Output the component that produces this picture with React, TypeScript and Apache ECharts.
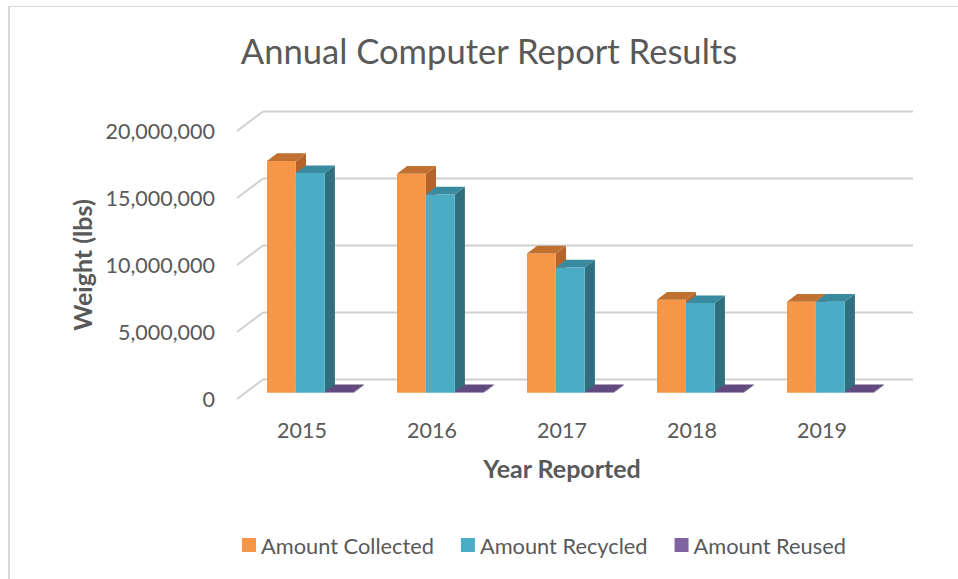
import React, { useEffect, useRef } from "react";
import * as echarts from "echarts";

const years = ["2015", "2016", "2017", "2018", "2019"];
const seriesNames = ["Amount Collected", "Amount Recycled", "Amount Reused"];
const collected = [17300000, 16350000, 10400000, 6950000, 6800000];
const recycled = [16400000, 14800000, 9350000, 6700000, 6800000];
const reused = [50000, 50000, 50000, 50000, 50000];
const yTicks = [0, 5000000, 10000000, 15000000, 20000000];

const FRONT = ["#F79646", "#4BACC6", "#8064A2"];
const TOP = ["#C0712F", "#3A8BA0", "#614B7E"];
const SIDE = ["#B5652A", "#2F6F7E", "#4F3D68"];

const DX = 26;
const DY = -19.5;
const F1 = 0.32;
const F2 = 0.71;
const GAP = 1.5;
const FONT = "Lato";
const TXT = "#595959";
const GRID = "#d0d0d0";

const makeBar = (s: number) => (params: any, api: any) => {
  const idx = api.value(0);
  const v = api.value(1);
  const top = api.coord([idx, v]);
  const base = api.coord([idx, 0]);
  const band = api.size([1, 0])[0];
  const bw = band / (3 + GAP);
  const left = top[0] - 1.5 * bw + s * bw;
  const x0 = left + F1 * DX;
  const x1 = x0 + bw;
  const yb = base[1] + F1 * DY;
  const yt = top[1] + F1 * DY;
  const ddx = (F2 - F1) * DX;
  const ddy = (F2 - F1) * DY;
  return {
    type: "group",
    children: [
      {
        type: "polygon",
        shape: { points: [[x1, yt], [x1 + ddx, yt + ddy], [x1 + ddx, yb + ddy], [x1, yb]] },
        style: { fill: SIDE[s] },
      },
      {
        type: "rect",
        shape: { x: x0, y: yt, width: bw, height: Math.max(yb - yt, 0) },
        style: { fill: FRONT[s] },
      },
      {
        type: "polygon",
        shape: { points: [[x0, yt], [x1, yt], [x1 + ddx, yt + ddy], [x0 + ddx, yt + ddy]] },
        style: { fill: TOP[s] },
      },
    ],
  };
};

const gridRender = (params: any, api: any) => {
  const cs = params.coordSys;
  const y = api.coord([0, api.value(1)])[1];
  return {
    type: "group",
    children: [
      { type: "line", shape: { x1: cs.x, y1: y, x2: cs.x + DX, y2: y + DY }, style: { stroke: GRID, lineWidth: 2 } },
      {
        type: "line",
        shape: { x1: cs.x + DX, y1: y + DY, x2: cs.x + cs.width + DX, y2: y + DY },
        style: { stroke: GRID, lineWidth: 2 },
      },
    ],
  };
};

export default function App() {
  const ref = useRef<HTMLDivElement>(null);
  useEffect(() => {
    if (!ref.current) return;
    const chart = echarts.init(ref.current, undefined, { renderer: "svg" });
    const values = [collected, recycled, reused];
    chart.setOption({
      animation: false,
      backgroundColor: "#ffffff",
      grid: { left: 237, right: 71, top: 131, bottom: 180, containLabel: false },
      xAxis: {
        type: "category",
        data: years,
        axisLine: { show: false },
        axisTick: { show: false },
        axisLabel: { margin: 20, fontSize: 21.5, color: TXT, fontFamily: FONT },
      },
      yAxis: {
        type: "value",
        min: 0,
        max: 20000000,
        interval: 5000000,
        splitLine: { show: false },
        axisLine: { show: false },
        axisTick: { show: false },
        axisLabel: {
          margin: 22,
          fontSize: 21.5,
          color: TXT,
          fontFamily: FONT,
          formatter: (v: number) => v.toLocaleString("en-US"),
        },
      },
      legend: {
        data: seriesNames,
        left: 242,
        top: 534,
        padding: 0,
        itemWidth: 14,
        itemHeight: 14,
        itemGap: 27,
        icon: "rect",
        textStyle: { fontSize: 21.8, color: TXT, fontFamily: FONT },
      },
      graphic: [
        { type: "rect", shape: { x: 8, y: 6, width: 2, height: 600 }, style: { fill: "#d9d9d9" } },
        { type: "rect", shape: { x: 8, y: 6, width: 960, height: 1 }, style: { fill: "#d9d9d9" } },
        {
          type: "text",
          x: 489,
          y: 50,
          style: {
            text: "Annual Computer Report Results",
            fill: TXT,
            font: `34.6px ${FONT}`,
            textAlign: "center",
            textVerticalAlign: "middle",
            align: "center",
            verticalAlign: "middle",
          },
        },
        {
          type: "text",
          x: 562,
          y: 468,
          style: {
            text: "Year Reported",
            fill: TXT,
            font: `bold 25px ${FONT}`,
            textAlign: "center",
            textVerticalAlign: "middle",
            align: "center",
            verticalAlign: "middle",
          },
        },
        {
          type: "text",
          x: 82,
          y: 265,
          rotation: Math.PI / 2,
          style: {
            text: "Weight (lbs)",
            fill: TXT,
            font: `bold 25px ${FONT}`,
            textAlign: "center",
            textVerticalAlign: "middle",
            align: "center",
            verticalAlign: "middle",
          },
        },
      ],
      series: [
        {
          type: "custom",
          name: "grid",
          z: 1,
          silent: true,
          renderItem: gridRender,
          data: yTicks.map((t) => [0, t]),
        },
        ...seriesNames.map((name, s) => ({
          type: "custom",
          name,
          z: 2,
          itemStyle: { color: FRONT[s] },
          renderItem: makeBar(s),
          encode: { x: 0, y: 1 },
          data: values[s].map((v, i) => [i, v]),
        })),
      ],
    });
    return () => chart.dispose();
  }, []);
  return (
    <div
      ref={ref}
      style={{ position: "fixed", left: 0, top: 0, width: 958, height: 579, background: "#fff" }}
    />
  );
}
